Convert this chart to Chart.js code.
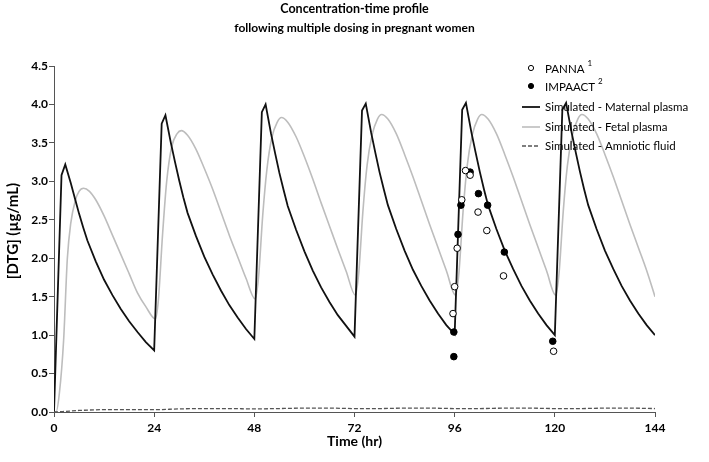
<!DOCTYPE html>
<html>
<head>
<meta charset="utf-8">
<script src="https://cdn.jsdelivr.net/npm/chart.js@4"></script>
<style>
  html, body { margin: 0; padding: 0; background: #fff; }
</style>
</head>
<body>
<canvas id="pkChart" width="709" height="462"></canvas>
<script>
// Values (hours, µg/mL)
const maternalTime = [0, 1.8, 2.7, 4, 5, 6, 7, 8, 10, 12, 14, 16, 18, 20, 22,
  24, 25.8, 26.7, 28, 29, 30, 31, 32, 34, 36, 38, 40, 42, 44, 46,
  48, 49.8, 50.7, 52, 53, 54, 55, 56, 58, 60, 62, 64, 66, 68, 70,
  72, 73.8, 74.7, 76, 77, 78, 79, 80, 82, 84, 86, 88, 90, 92, 94,
  96, 97.8, 98.7, 100, 101, 102, 103, 104, 106, 108, 110, 112, 114, 116, 118,
  120, 121.8, 122.7, 124, 125, 126, 127, 128, 130, 132, 134, 136, 138, 140, 142, 144];
const maternalConc = [0, 3.08, 3.22, 2.98, 2.78, 2.58, 2.40, 2.23, 1.96, 1.72, 1.52, 1.34, 1.18, 1.04, 0.91,
  0.80, 3.75, 3.86, 3.50, 3.25, 3.01, 2.79, 2.59, 2.29, 2.02, 1.79, 1.58, 1.39, 1.23, 1.08,
  0.95, 3.90, 4.00, 3.62, 3.36, 3.11, 2.89, 2.68, 2.37, 2.09, 1.84, 1.62, 1.43, 1.26, 1.12,
  0.98, 3.92, 4.01, 3.63, 3.37, 3.12, 2.90, 2.69, 2.38, 2.10, 1.85, 1.64, 1.45, 1.28, 1.13,
  1.01, 3.93, 4.02, 3.64, 3.38, 3.13, 2.90, 2.69, 2.38, 2.10, 1.86, 1.64, 1.45, 1.28, 1.13,
  1.00, 3.93, 4.02, 3.64, 3.38, 3.13, 2.90, 2.69, 2.38, 2.10, 1.86, 1.64, 1.45, 1.28, 1.13, 1.00];

const fetalTime = [0, 0.5, 1.3, 2.3, 3.2, 4, 5.1, 6, 7.1, 8.5, 10, 12, 14, 16, 18, 20, 22, 24.3,
  25, 26, 27, 28.2, 29.5, 30.5, 32, 34, 36, 38, 40, 42, 44, 46, 48.2,
  49, 50, 51, 52.2, 53.5, 54.5, 56, 58, 60, 62, 64, 66, 68, 70, 72.2,
  73, 74, 75, 76.2, 77.5, 78.5, 80, 82, 84, 86, 88, 90, 92, 94, 96.2,
  97, 98, 99, 100.2, 101.5, 102.5, 104, 106, 108, 110, 112, 114, 116, 118, 120.2,
  121, 122, 123, 124.2, 125.5, 126.5, 128, 130, 132, 134, 136, 138, 140, 142, 144];
const fetalConc = [0, 0, 0.25, 0.93, 2.00, 2.45, 2.75, 2.87, 2.91, 2.87, 2.76, 2.55, 2.30, 2.05, 1.80, 1.55, 1.37, 1.21,
  1.45, 2.30, 3.00, 3.45, 3.62, 3.66, 3.60, 3.42, 3.17, 2.90, 2.60, 2.30, 2.02, 1.74, 1.47,
  1.75, 2.55, 3.15, 3.57, 3.77, 3.83, 3.77, 3.58, 3.32, 3.03, 2.72, 2.42, 2.12, 1.83, 1.52,
  1.80, 2.60, 3.20, 3.60, 3.81, 3.87, 3.81, 3.62, 3.35, 3.06, 2.75, 2.44, 2.14, 1.84, 1.52,
  1.80, 2.60, 3.20, 3.60, 3.81, 3.87, 3.81, 3.62, 3.35, 3.06, 2.75, 2.44, 2.14, 1.84, 1.52,
  1.80, 2.60, 3.20, 3.60, 3.81, 3.87, 3.81, 3.62, 3.35, 3.06, 2.75, 2.44, 2.14, 1.84, 1.50];

const amnioticTime = [0, 2, 6, 12, 18, 24, 30, 36, 42, 48, 54, 60, 66, 72, 78, 84, 90, 96, 102, 108, 114, 120, 126, 132, 138, 144];
const amnioticConc = [0, 0.005, 0.02, 0.03, 0.03, 0.03, 0.04, 0.045, 0.045, 0.04, 0.045, 0.05, 0.05, 0.045, 0.045, 0.05, 0.05, 0.045, 0.045, 0.05, 0.05, 0.045, 0.045, 0.05, 0.05, 0.045];

const pannaTime = [98.6, 99.7, 97.7, 101.6, 103.7, 96.6, 107.7, 96.0, 95.6, 119.7];
const pannaConc = [3.14, 3.08, 2.76, 2.60, 2.36, 2.13, 1.77, 1.63, 1.28, 0.79];

const impaactTime = [99.7, 101.7, 97.5, 103.9, 96.8, 107.9, 95.8, 95.8, 119.5];
const impaactConc = [3.12, 2.84, 2.69, 2.69, 2.31, 2.08, 1.04, 0.72, 0.92];

const xTickValues = [0, 24, 48, 72, 96, 120, 144];
const yTickValues = [0, 0.5, 1, 1.5, 2, 2.5, 3, 3.5, 4, 4.5];

const seriesLabels = ['PANNA', 'IMPAACT', 'Simulated - Maternal plasma', 'Simulated - Fetal plasma', 'Simulated - Amniotic fluid'];
const seriesSup = ['1', '2', '', '', ''];
const titleLines = ['Concentration-time profile', 'following multiple dosing in pregnant women'];
const xTitle = 'Time (hr)';
const yTitle = '[DTG] (\u00b5g/mL)';

const FONT = 'Lato, "Open Sans", sans-serif';

function toPoints(xs, ys) {
  return xs.map((x, i) => ({ x: x, y: ys[i] }));
}

// titles, axis titles and the legend are drawn by hand
const decorPlugin = {
  id: 'decor',
  afterDraw(chart) {
    const ctx = chart.ctx;
    const area = chart.chartArea;
    const cx = (area.left + area.right) / 2;
    ctx.save();
    ctx.fillStyle = '#000';
    ctx.textAlign = 'center';
    ctx.textBaseline = 'middle';
    ctx.font = 'bold 12.5px ' + FONT;
    ctx.fillText(titleLines[0], cx, 9);
    ctx.font = 'bold 12px ' + FONT;
    ctx.fillText(titleLines[1], cx, 28);
    ctx.font = 'bold 14px ' + FONT;
    ctx.fillText(xTitle, cx, 441);
    ctx.font = 'bold 15px ' + FONT;
    ctx.translate(13, (area.top + area.bottom) / 2 - 8);
    ctx.rotate(-Math.PI / 2);
    ctx.fillText(yTitle, 0, 0);
    ctx.restore();

    // legend
    const rows = [69, 87, 107, 127, 146];
    ctx.save();
    chart.data.datasets.forEach((ds, i) => {
      const y = rows[i];
      if (ds.showLine) {
        ctx.beginPath();
        ctx.strokeStyle = ds.borderColor;
        ctx.lineWidth = ds.borderWidth;
        ctx.setLineDash(ds.borderDash || []);
        ctx.moveTo(522, y);
        ctx.lineTo(540, y);
        ctx.stroke();
        ctx.setLineDash([]);
      } else {
        ctx.beginPath();
        ctx.arc(531, y - 1, 2.6, 0, Math.PI * 2);
        ctx.fillStyle = ds.pointBackgroundColor;
        ctx.fill();
        ctx.strokeStyle = '#000';
        ctx.lineWidth = 1;
        ctx.stroke();
      }
      ctx.fillStyle = '#000';
      ctx.textAlign = 'left';
      ctx.textBaseline = 'middle';
      ctx.font = '11.5px ' + FONT;
      ctx.fillText(seriesLabels[i], 545, y);
      if (seriesSup[i]) {
        const w = ctx.measureText(seriesLabels[i]).width;
        ctx.font = '8px ' + FONT;
        ctx.fillText(seriesSup[i], 545 + w + 3, y - 6);
      }
    });
    ctx.restore();
  }
};

const axisGrid = { drawOnChartArea: false, drawTicks: true, tickLength: 5, color: '#555', lineWidth: 1 };

new Chart(document.getElementById('pkChart'), {
  type: 'scatter',
  data: {
    datasets: [
      {
        label: seriesLabels[0],
        data: toPoints(pannaTime, pannaConc),
        showLine: false,
        pointRadius: 3.3,
        pointBackgroundColor: '#fff',
        pointBorderColor: '#000',
        pointBorderWidth: 1,
        order: 0
      },
      {
        label: seriesLabels[1],
        data: toPoints(impaactTime, impaactConc),
        showLine: false,
        pointRadius: 3.3,
        pointBackgroundColor: '#000',
        pointBorderColor: '#000',
        pointBorderWidth: 1,
        order: 0
      },
      {
        label: seriesLabels[2],
        data: toPoints(maternalTime, maternalConc),
        showLine: true,
        borderColor: '#111',
        borderWidth: 1.8,
        pointRadius: 0,
        tension: 0,
        order: 2
      },
      {
        label: seriesLabels[3],
        data: toPoints(fetalTime, fetalConc),
        showLine: true,
        borderColor: '#bdbdbd',
        borderWidth: 1.6,
        pointRadius: 0,
        cubicInterpolationMode: 'monotone',
        order: 3
      },
      {
        label: seriesLabels[4],
        data: toPoints(amnioticTime, amnioticConc),
        showLine: true,
        borderColor: '#555',
        borderWidth: 1.3,
        borderDash: [4, 2],
        pointRadius: 0,
        cubicInterpolationMode: 'monotone',
        clip: false,
        order: 1
      }
    ]
  },
  options: {
    responsive: false,
    animation: false,
    layout: { padding: { top: 66, right: 54, bottom: 0, left: 0 } },
    plugins: {
      legend: { display: false },
      title: { display: false },
      tooltip: { enabled: false }
    },
    scales: {
      x: {
        type: 'linear',
        min: 0,
        max: 144,
        afterFit: scale => { scale.height = 50; },
        afterBuildTicks: scale => { scale.ticks = xTickValues.map(v => ({ value: v })); },
        ticks: { color: '#000', font: { family: FONT, size: 12, weight: 'bold' }, padding: 4, maxRotation: 0 },
        grid: axisGrid,
        border: { color: '#555', width: 1 }
      },
      y: {
        type: 'linear',
        min: 0,
        max: 4.5,
        afterFit: scale => { scale.width = 54; },
        afterBuildTicks: scale => { scale.ticks = yTickValues.map(v => ({ value: v })); },
        ticks: {
          color: '#000',
          font: { family: FONT, size: 12, weight: 'bold' },
          padding: 1,
          callback: v => Number(v).toFixed(1)
        },
        grid: axisGrid,
        border: { color: '#555', width: 1 }
      }
    }
  },
  plugins: [decorPlugin]
});
</script>
</body>
</html>
